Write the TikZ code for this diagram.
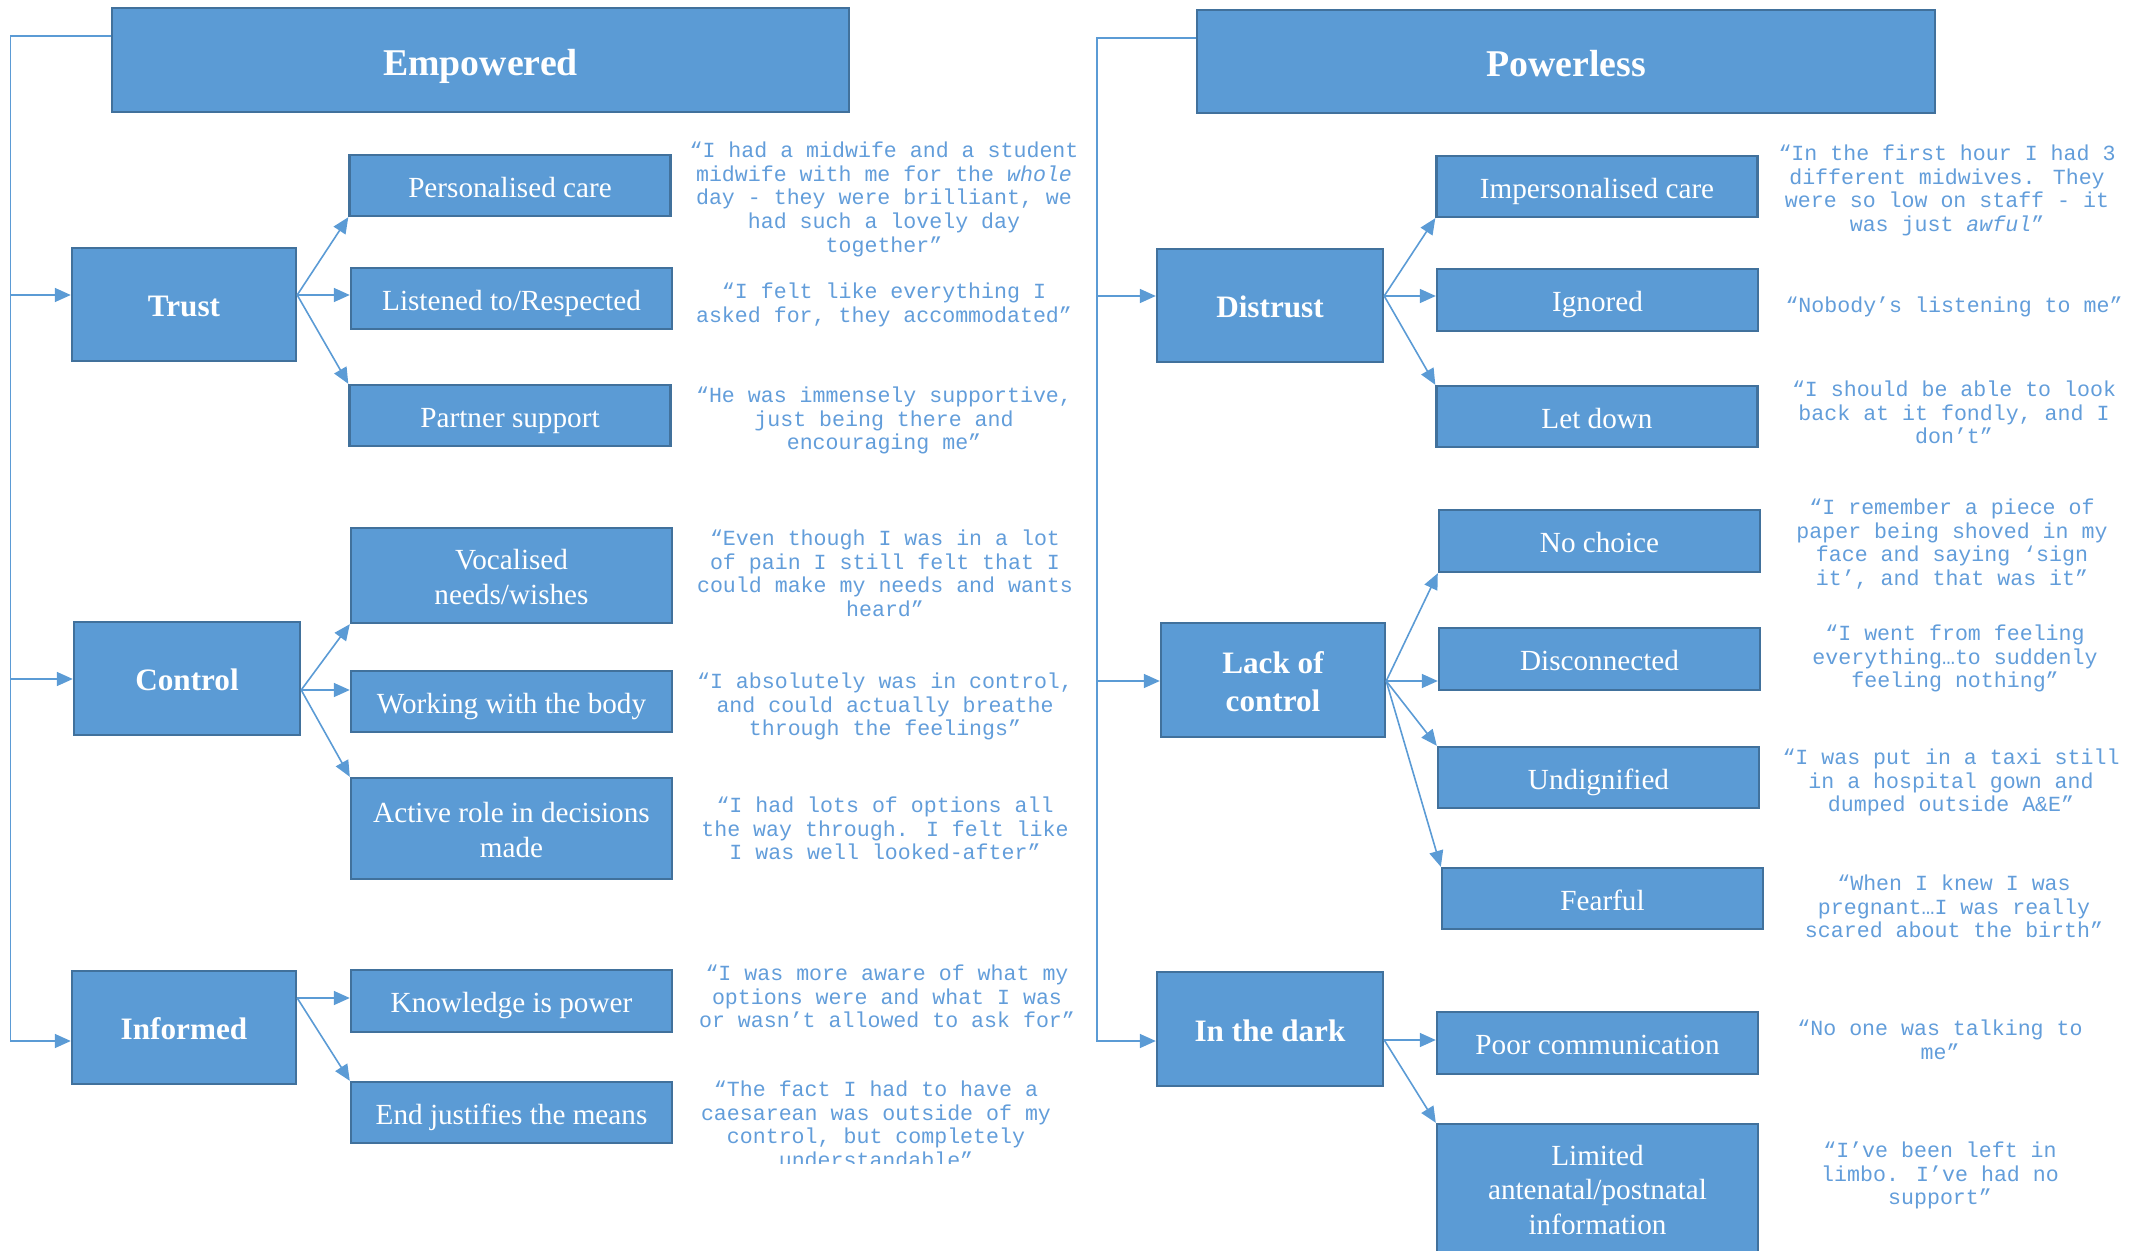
\documentclass[tikz,border=0pt]{standalone}
\usepackage{fontspec}
\setmainfont{Liberation Serif}
\newfontfamily\quotefont{Liberation Mono}
\usetikzlibrary{arrows.meta}
\definecolor{boxfill}{HTML}{5B9BD5}
\definecolor{boxline}{HTML}{41719C}
\definecolor{quotec}{RGB}{98,157,218}
\newcommand\bxs{\rule[-0.3em]{0pt}{1.4em}}
\newcommand\dstr{\rule[-0.3em]{0pt}{0.3em}}
\tikzset{
 box/.style={draw=boxline, fill=boxfill, line width=1.2pt, text=white, inner sep=0pt, align=center},
 topbox/.style={box, font=\bfseries\fontsize{18.9}{22}\selectfont},
 midbox/.style={box, font=\bfseries\fontsize{15.6}{18.6}\selectfont},
 subbox/.style={box, minimum width=160.5pt, minimum height=30.5pt, font=\fontsize{14.6}{17.4}\selectfont},
 quote/.style={text=quotec, font=\quotefont\fontsize{10.8}{11.85}\selectfont, align=center, inner sep=0pt, anchor=north},
 conn/.style={draw=boxfill, line width=0.8pt},
 arr/.style={conn, -{Triangle[length=8pt,width=7pt]}},
}
\begin{document}
\begin{tikzpicture}[x=0.5pt,y=-0.5pt]
\useasboundingbox (0,0) rectangle (2140,1251);
% top level
\node[topbox, minimum width=368.5pt, minimum height=52pt] (emp) at (480.5,60) {\bxs Empowered};
\node[topbox, minimum width=369pt, minimum height=51.5pt] (pow) at (1566,61.5) {\bxs Powerless};
% mid level
\node[midbox, minimum width=112pt, minimum height=56.5pt] (trust) at (184,304.5) {\bxs Trust};
\node[midbox, minimum width=113pt, minimum height=56.5pt] (control) at (187,678.5) {\bxs Control};
\node[midbox, minimum width=112pt, minimum height=56.5pt] (informed) at (184,1027.5) {\bxs Informed};
\node[midbox, minimum width=113pt, minimum height=56.5pt] (distrust) at (1270,305.5) {\bxs Distrust};
\node[midbox, minimum width=112pt, minimum height=57pt] (lack) at (1273,680) {\bxs Lack of\\control\dstr};
\node[midbox, minimum width=113pt, minimum height=57pt] (dark) at (1270,1029) {\bxs In the dark};
% sub level left
\node[subbox] (pc) at (510,185.5) {\bxs Personalised care};
\node[subbox] (lr) at (511.5,298.5) {\bxs Listened to/Respected};
\node[subbox] (ps) at (510,415.5) {\bxs Partner support};
\node[subbox, minimum height=47.5pt] (vn) at (511.5,575.5) {\bxs Vocalised\\needs/wishes\dstr};
\node[subbox] (wb) at (511.5,701.5) {\bxs Working with the body};
\node[subbox, minimum height=50.5pt] (ar) at (511.5,828.5) {\bxs Active role in decisions\\made\dstr};
\node[subbox, minimum height=31pt] (kp) at (511.5,1001) {\bxs Knowledge is power};
\node[subbox] (ej) at (511.5,1112.5) {\bxs End justifies the means};
% sub level right
\node[subbox] (ic) at (1597,186.5) {\bxs Impersonalised care};
\node[subbox, minimum height=31pt] (ig) at (1597.5,300) {\bxs Ignored};
\node[subbox] (ld) at (1597,416.5) {\bxs Let down};
\node[subbox, minimum height=31pt] (nc) at (1599.5,541) {\bxs No choice};
\node[subbox, minimum height=31pt] (dc) at (1599.5,659) {\bxs Disconnected};
\node[subbox] (ud) at (1598.5,777.5) {\bxs Undignified};
\node[subbox] (ff) at (1602.5,898.5) {\bxs Fearful};
\node[subbox, minimum height=31pt] (pcm) at (1597.5,1043) {\bxs Poor communication};
\node[subbox, minimum height=69pt] (lim) at (1597.5,1193) {\strut Limited\\antenatal/postnatal\\information\strut};
% quotes left
\node[quote] (q1) at (884,140.5) {\strut “I had a midwife and a student\\midwife with me for the \textit{whole}\\day - they were brilliant, we\\had such a lovely day\\together”};
\node[quote] (q2) at (884,281.5) {\strut “I felt like everything I\\asked for, they accommodated”};
\node[quote] (q3) at (884,385.5) {\strut “He was immensely supportive,\\just being there and\\encouraging me”};
\node[quote] (q4) at (885,528.5) {\strut “Even though I was in a lot\\of pain I still felt that I\\could make my needs and wants\\heard”};
\node[quote] (q5) at (885,671.5) {\strut “I absolutely was in control,\\and could actually breathe\\through the feelings”};
\node[quote] (q6) at (885,795.5) {\strut “I had lots of options all\\the way through. I felt like\\I was well looked-after”};
\node[quote] (q7) at (887,963.5) {\strut “I was more aware of what my\\options were and what I was\\or wasn’t allowed to ask for”};
\begin{scope}
\clip (600,1040) rectangle (1090,1163);
\node[quote] (q8) at (876,1079.5) {\strut “The fact I had to have a\\caesarean was outside of my\\control, but completely\\understandable”};
\end{scope}
% quotes right
\node[quote] (r1) at (1947,143.5) {\strut “In the first hour I had 3\\different midwives. They\\were so low on staff - it\\was just \textit{awful}”};
\node[quote] (r2) at (1954,295.5) {\strut “Nobody’s listening to me”};
\node[quote] (r3) at (1954,379.5) {\strut “I should be able to look\\back at it fondly, and I\\don’t”};
\node[quote] (r4) at (1952,497.5) {\strut “I remember a piece of\\paper being shoved in my\\face and saying ‘sign\\it’, and that was it”};
\node[quote] (r5) at (1955,623.5) {\strut “I went from feeling\\everything…to suddenly\\feeling nothing”};
\node[quote] (r6) at (1951,747.5) {\strut “I was put in a taxi still\\in a hospital gown and\\dumped outside A\&E”};
\node[quote] (r7) at (1954,873.5) {\strut “When I knew I was\\pregnant…I was really\\scared about the birth”};
\node[quote] (r8) at (1940,1018.5) {\strut “No one was talking to\\me”};
\node[quote] (r9) at (1940,1140.5) {\strut “I’ve been left in\\limbo. I’ve had no\\support”};
% left bus
\coordinate (Ltop) at (10.5,36);
\coordinate (Lbot) at (10.5,1041);
\draw[arr] (emp.west |- Ltop) -- (Ltop) -- (Lbot) -- (informed.west |- Lbot);
\draw[arr] (Ltop |- 0,295) -- (trust.west |- 0,295);
\draw[arr] (Ltop |- 0,679) -- (control.west |- 0,679);
% right bus
\coordinate (Rtop) at (1097,38);
\coordinate (Rbot) at (1097,1041);
\draw[arr] (pow.west |- Rtop) -- (Rtop) -- (Rbot) -- (dark.west |- Rbot);
\draw[arr] (Rtop |- 0,296) -- (distrust.west |- 0,296);
\draw[arr] (Rtop |- 0,681) -- (lack.west |- 0,681);
% trust
\coordinate (tO) at (trust.east |- 0,295);
\draw[arr] (tO) -- (pc.south west);
\draw[arr] (tO) -- (lr.west |- tO);
\draw[arr] (tO) -- (ps.north west);
% control
\coordinate (cO) at (control.east |- 0,690);
\draw[arr] (cO) -- (vn.south west);
\draw[arr] (cO) -- (wb.west |- cO);
\draw[arr] (cO) -- (ar.north west);
% informed
\coordinate (iO) at (informed.east |- 0,998);
\draw[arr] (iO) -- (kp.west |- iO);
\draw[arr] (iO) -- (ej.north west);
% distrust
\coordinate (dO) at (distrust.east |- 0,296);
\draw[arr] (dO) -- (ic.south west);
\draw[arr] (dO) -- (ig.west |- dO);
\draw[arr] (dO) -- (ld.north west);
% lack of control
\coordinate (lO) at (lack.east |- 0,681);
\draw[arr] (lO) -- (nc.south west);
\draw[arr] (lO) -- (dc.west |- lO);
\draw[arr] (lO) -- (ud.north west);
\draw[arr] (lO) -- (ff.north west);
% in the dark
\coordinate (kO) at (dark.east |- 0,1040);
\draw[arr] (kO) -- (pcm.west |- kO);
\draw[arr] (kO) -- (lim.north west);
\end{tikzpicture}
\end{document}
